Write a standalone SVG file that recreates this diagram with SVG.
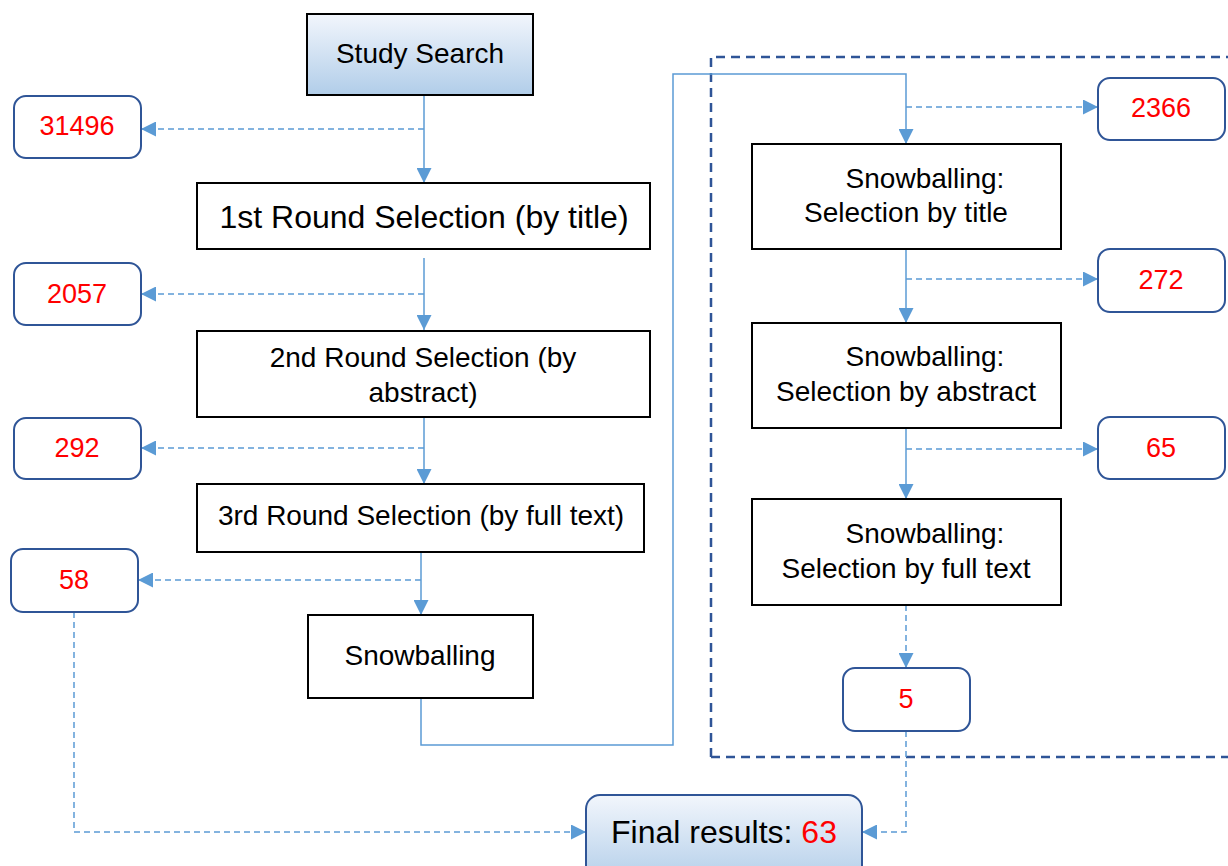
<svg xmlns="http://www.w3.org/2000/svg" width="1228" height="866" viewBox="0 0 1228 866">
<style>
text{font-family:"Liberation Sans",Arial,sans-serif;}
.box{fill:#fff;stroke:#000;stroke-width:2;}
.grad{fill:url(#g);}
.num{fill:#fff;stroke:#2f5597;stroke-width:2;}
.t{font-size:28px;fill:#000;text-anchor:middle;}
.tl{font-size:32px;fill:#000;text-anchor:middle;}
.n{font-size:27px;fill:#ff0000;text-anchor:middle;}
.solid{fill:none;stroke:#5b9bd5;stroke-width:1.5;}
.dash{fill:none;stroke:#5b9bd5;stroke-width:1.5;stroke-dasharray:6,4;}
.frame{fill:none;stroke:#2f5597;stroke-width:2.5;stroke-dasharray:9,6;}
</style>
<defs>
<linearGradient id="g" x1="0" y1="0" x2="0" y2="1">
<stop offset="0" stop-color="#f2f6fc"/>
<stop offset="1" stop-color="#b1cde9"/>
</linearGradient>
<marker id="ah" viewBox="0 0 15 15" refX="15" refY="7.5" markerWidth="15" markerHeight="15" markerUnits="userSpaceOnUse" orient="auto">
<path d="M0,0 L15,7.5 L0,15 Z" fill="#5b9bd5"/>
</marker>
</defs>

<path class="frame" d="M711,757 L711,57 L1240,57 M711,757 L1240,757"/>

<g id="connectors">
<path class="solid" d="M424,95 L424,183" marker-end="url(#ah)"/>
<path class="dash" d="M424,129 L141,129" marker-end="url(#ah)"/>
<path class="solid" d="M424,258 L424,330" marker-end="url(#ah)"/>
<path class="dash" d="M424,294 L141,294" marker-end="url(#ah)"/>
<path class="solid" d="M424,417 L424,484" marker-end="url(#ah)"/>
<path class="dash" d="M424,448 L141,448" marker-end="url(#ah)"/>
<path class="solid" d="M421,552 L421,615" marker-end="url(#ah)"/>
<path class="dash" d="M421,580 L138,580" marker-end="url(#ah)"/>
<path class="solid" d="M421,698 L421,745 L673,745 L673,74 L906,74 L906,144" marker-end="url(#ah)"/>
<path class="dash" d="M906,107 L1098,107" marker-end="url(#ah)"/>
<path class="solid" d="M906,249 L906,323" marker-end="url(#ah)"/>
<path class="dash" d="M906,279 L1098,279" marker-end="url(#ah)"/>
<path class="solid" d="M906,428 L906,499" marker-end="url(#ah)"/>
<path class="dash" d="M906,449 L1098,449" marker-end="url(#ah)"/>
<path class="dash" d="M906,605 L906,668" marker-end="url(#ah)"/>
<path class="dash" d="M906,731 L906,832 L862,832" marker-end="url(#ah)"/>
<path class="dash" d="M74,612 L74,832 L586,832" marker-end="url(#ah)"/>
</g>

<g id="study-search">
<rect class="grad" x="307" y="14" width="226" height="81" stroke="#000" stroke-width="2"/>
<text class="t" x="420" y="63">Study Search</text>
</g>
<g id="n31496"><rect class="num" x="14" y="96" width="127" height="62" rx="12"/><text class="n" x="77" y="135">31496</text></g>
<g id="round1">
<rect class="box" x="197" y="183" width="453" height="66"/>
<text class="tl" x="424" y="228">1st Round Selection (by title)</text>
</g>
<g id="n2057"><rect class="num" x="14" y="263" width="127" height="62" rx="12"/><text class="n" x="77" y="303">2057</text></g>
<g id="round2">
<rect class="box" x="197" y="331" width="453" height="86"/>
<text class="t" x="423" y="367">2nd Round Selection (by</text>
<text class="t" x="423" y="402">abstract)</text>
</g>
<g id="n292"><rect class="num" x="14" y="418" width="127" height="61" rx="12"/><text class="n" x="77" y="457">292</text></g>
<g id="round3">
<rect class="box" x="197" y="484" width="447" height="68"/>
<text class="t" x="421" y="525">3rd Round Selection (by full text)</text>
</g>
<g id="n58"><rect class="num" x="11" y="549" width="127" height="63" rx="12"/><text class="n" x="74" y="589">58</text></g>
<g id="snowballing">
<rect class="box" x="308" y="615" width="225" height="83"/>
<text class="t" x="420" y="665">Snowballing</text>
</g>

<g id="sb-title">
<rect class="box" x="752" y="144" width="309" height="105"/>
<text class="t" x="925" y="188">Snowballing:</text>
<text class="t" x="906" y="222">Selection by title</text>
</g>
<g id="n2366"><rect class="num" x="1098" y="78" width="127" height="62" rx="12"/><text class="n" x="1161" y="117">2366</text></g>
<g id="sb-abstract">
<rect class="box" x="752" y="323" width="309" height="105"/>
<text class="t" x="925" y="366">Snowballing:</text>
<text class="t" x="906" y="401">Selection by abstract</text>
</g>
<g id="n272"><rect class="num" x="1098" y="249" width="127" height="63" rx="12"/><text class="n" x="1161" y="289">272</text></g>
<g id="sb-fulltext">
<rect class="box" x="752" y="499" width="309" height="106"/>
<text class="t" x="925" y="543">Snowballing:</text>
<text class="t" x="906" y="578">Selection by full text</text>
</g>
<g id="n65"><rect class="num" x="1098" y="417" width="127" height="62" rx="12"/><text class="n" x="1161" y="457">65</text></g>
<g id="n5"><rect class="num" x="843" y="668" width="127" height="63" rx="12"/><text class="n" x="906" y="708">5</text></g>

<g id="final">
<rect class="grad" x="586" y="795" width="276" height="90" rx="14" stroke="#2f5597" stroke-width="2"/>
<text class="tl" x="724" y="843">Final results: <tspan fill="#ff0000">63</tspan></text>
</g>
</svg>
